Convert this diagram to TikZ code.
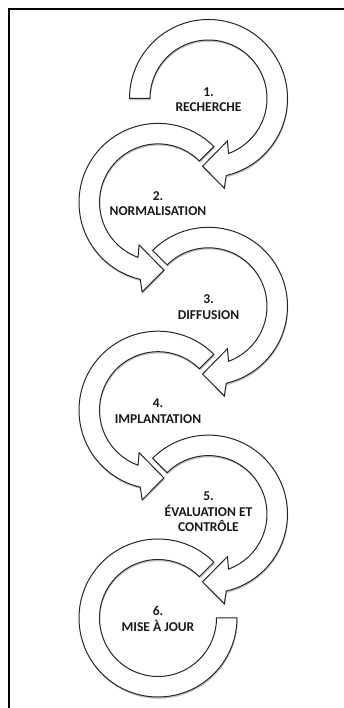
\documentclass[tikz,border=0pt]{standalone}
\usepackage{fontspec}
\setmainfont{Carlito}
\usetikzlibrary{shadows}
\newcommand{\cwarr}[2]{%
  \path[arrowshape] ([shift={(#2:79)}]#1) arc[start angle=#2, end angle=-77, radius=79]
    -- ([shift={(-80:91)}]#1) -- ([shift={(-95:68)}]#1) -- ([shift={(-66:46.5)}]#1)
    -- ([shift={(-70:58.5)}]#1) arc[start angle=-70, end angle=#2, radius=58.5] -- cycle;}
\newcommand{\ccwarr}[2]{%
  \path[arrowshape] ([shift={(#2:79)}]#1) arc[start angle=#2, end angle=257, radius=79]
    -- ([shift={(260:91)}]#1) -- ([shift={(275:68)}]#1) -- ([shift={(246:46.5)}]#1)
    -- ([shift={(250:58.5)}]#1) arc[start angle=250, end angle=#2, radius=58.5] -- cycle;}
\begin{document}
\begin{tikzpicture}[x=1pt,y=1pt,
  arrowshape/.style={draw=black!85, line width=1pt, fill=white, line join=miter,
    drop shadow={shadow xshift=0.6pt, shadow yshift=-1.8pt, opacity=0.22, fill=black}},
  steplabel/.style={font=\bfseries\fontsize{13.5}{15.5}\selectfont, text=black!90,
    align=center, inner sep=0pt}]
\useasboundingbox (0,0) rectangle (344,708);
\fill[white] (0,0) rectangle (344,708);
\draw[line width=2pt] (8.5,-10) -- (8.5,698.5) -- (360,698.5);
\coordinate (c1) at (208.5,609.5);
\coordinate (c2) at (158,505.6);
\coordinate (c3) at (208.5,401.7);
\coordinate (c4) at (158,297.8);
\coordinate (c5) at (208.5,193.9);
\coordinate (c6) at (158,90);
% arrow 6 (no head)
\path[arrowshape] ([shift={(45:79)}]c6) arc[start angle=45, end angle=360, radius=79]
  -- ([shift={(0:58.5)}]c6) arc[start angle=360, end angle=45, radius=58.5] -- cycle;
\cwarr{c5}{135}
\ccwarr{c4}{45}
\cwarr{c3}{135}
\ccwarr{c2}{45}
\cwarr{c1}{180}
\node[steplabel] (t1) at ([yshift=-1]c1) {1.\\RECHERCHE};
\node[steplabel] (t2) at ([yshift=-1]c2) {2.\\NORMALISATION};
\node[steplabel] (t3) at ([yshift=-1]c3) {3.\\DIFFUSION};
\node[steplabel] (t4) at ([yshift=-1]c4) {4.\\IMPLANTATION};
\node[steplabel] (t5) at ([yshift=2]c5) {5.\\ÉVALUATION ET\\CONTRÔLE};
\node[steplabel] (t6) at ([yshift=-1]c6) {6.\\MISE À JOUR};
\end{tikzpicture}
\end{document}
